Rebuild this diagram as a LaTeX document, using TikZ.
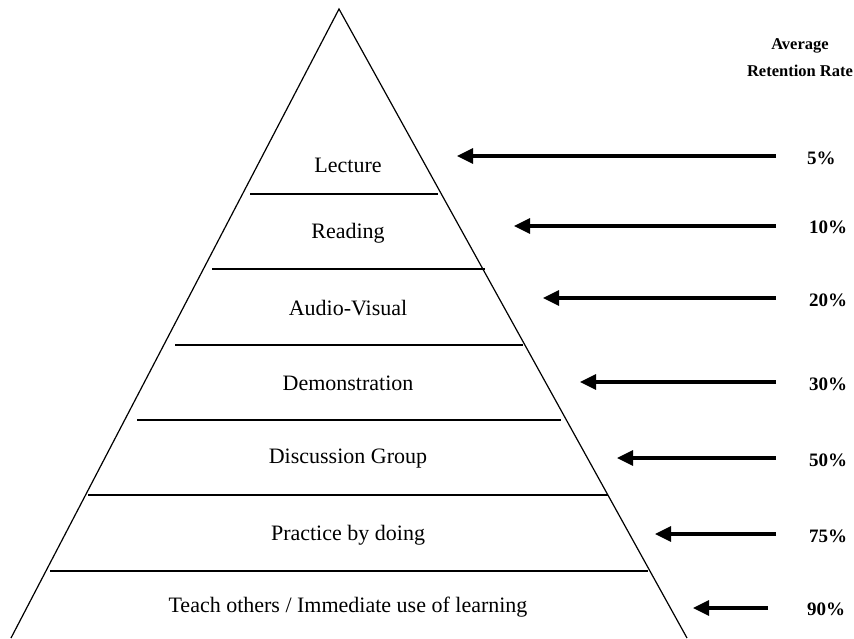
\documentclass[tikz,border=0pt]{standalone}
\usepackage{fontspec}
\setmainfont{Liberation Serif}
\usetikzlibrary{arrows.meta}
\begin{document}
\begin{tikzpicture}[x=1pt,y=-1pt,
  lvl/.style={font=\fontsize{22}{24}\selectfont},
  pct/.style={font=\bfseries\fontsize{19}{21}\selectfont, anchor=west, inner sep=0pt},
  hdr/.style={font=\bfseries\fontsize{16.5}{27}\selectfont, align=center},
  sep/.style={line width=1.2pt},
  ret/.style={line width=3.2pt, -{Triangle[length=16pt,width=15pt]}}]
\useasboundingbox (0,0) rectangle (854,638);
\draw[line width=1.2pt] (11,638) -- (339,9) -- (687,638);
\draw[sep] (250,194) -- (438,194);
\draw[sep] (212,269) -- (485,269);
\draw[sep] (175,345) -- (523,345);
\draw[sep] (137,420) -- (561,420);
\draw[sep] (88,495) -- (608,495);
\draw[sep] (50,571) -- (648,571);
\node[lvl] (l1) at (348,165) {Lecture};
\node[lvl] (l2) at (348,233) {Reading};
\node[lvl] (l3) at (348,308) {Audio-Visual};
\node[lvl] (l4) at (348,383) {Demonstration};
\node[lvl] (l5) at (348,459) {Discussion Group};
\node[lvl] (l6) at (348,535) {Practice by doing};
\node[lvl] (l7) at (348,607) {Teach others / Immediate use of learning};
\node[hdr] (h) at (800,58) {Average\\Retention Rate};
\node[pct] (p1) at (807,158) {5\%};
\node[pct] (p2) at (809,227) {10\%};
\node[pct] (p3) at (809,300) {20\%};
\node[pct] (p4) at (809,384) {30\%};
\node[pct] (p5) at (809,460) {50\%};
\node[pct] (p6) at (809,536) {75\%};
\node[pct] (p7) at (807,609) {90\%};
\coordinate (a1s) at (776,156); \coordinate (a1e) at (457,156);
\coordinate (a2s) at (776,226); \coordinate (a2e) at (514,226);
\coordinate (a3s) at (776,298); \coordinate (a3e) at (543,298);
\coordinate (a4s) at (776,382); \coordinate (a4e) at (580,382);
\coordinate (a5s) at (776,458); \coordinate (a5e) at (617,458);
\coordinate (a6s) at (776,534); \coordinate (a6e) at (655,534);
\coordinate (a7s) at (768,608); \coordinate (a7e) at (693,608);
\draw[ret] (a1s) -- (a1e);
\draw[ret] (a2s) -- (a2e);
\draw[ret] (a3s) -- (a3e);
\draw[ret] (a4s) -- (a4e);
\draw[ret] (a5s) -- (a5e);
\draw[ret] (a6s) -- (a6e);
\draw[ret] (a7s) -- (a7e);
\end{tikzpicture}
\end{document}
